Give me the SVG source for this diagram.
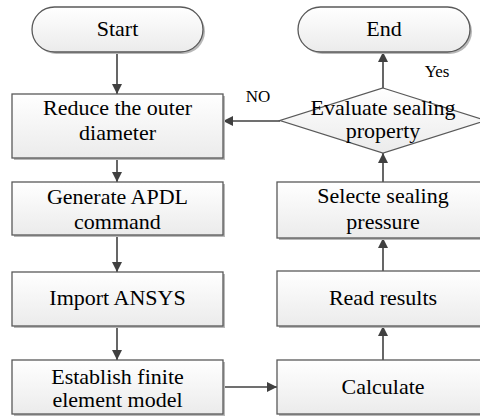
<svg xmlns="http://www.w3.org/2000/svg" width="480" height="417" viewBox="0 0 480 417">
<style>
.box{fill:url(#g);stroke:#595959;stroke-width:1.3}
.sh{fill:#b8b8b8}
text{font-family:'Liberation Serif','Times New Roman',serif;fill:#000;text-anchor:middle}
.t{font-size:22px}
.s{font-size:17px}
.c{stroke:#404040;stroke-width:1.6;fill:none;marker-end:url(#a)}
</style>
<defs>
<linearGradient id="g" x1="0" y1="0" x2="0" y2="1">
<stop offset="0" stop-color="#ffffff"/>
<stop offset="1" stop-color="#ebebeb"/>
</linearGradient>
<marker id="a" viewBox="0 0 10 10" refX="10" refY="5" markerWidth="10" markerHeight="10" markerUnits="userSpaceOnUse" orient="auto">
<path d="M0,0 L10,5 L0,10 z" fill="#404040"/>
</marker>
</defs>
<g id="connectors">
<line class="c" x1="117" y1="52" x2="117" y2="94"/>
<line class="c" x1="117" y1="158" x2="117" y2="182"/>
<line class="c" x1="117" y1="235" x2="117" y2="272"/>
<line class="c" x1="117" y1="326" x2="117" y2="360"/>
<line class="c" x1="223" y1="387" x2="277" y2="387"/>
<line class="c" x1="383" y1="360" x2="383" y2="326"/>
<line class="c" x1="383" y1="271" x2="383" y2="238"/>
<line class="c" x1="383" y1="182" x2="383" y2="153"/>
<line class="c" x1="383" y1="88" x2="383" y2="52"/>
<line class="c" x1="280" y1="121" x2="223" y2="121"/>
<text class="s" x="258" y="102">NO</text>
<text class="s" x="437" y="77">Yes</text>
</g>
<g id="start">
<rect class="sh" x="34" y="9" width="171" height="45" rx="22.5"/>
<rect class="box" x="32" y="7" width="171" height="45" rx="22.5"/>
<text class="t" x="117.5" y="36">Start</text>
</g>
<g id="reduce">
<rect class="sh" x="14" y="96" width="211" height="64"/>
<rect class="box" x="12" y="94" width="211" height="64"/>
<text class="t" x="117.5" y="115">Reduce the outer</text>
<text class="t" x="117.5" y="140">diameter</text>
</g>
<g id="generate">
<rect class="sh" x="14" y="184" width="211" height="53"/>
<rect class="box" x="12" y="182" width="211" height="53"/>
<text class="t" x="117.5" y="204">Generate APDL</text>
<text class="t" x="117.5" y="229">command</text>
</g>
<g id="import">
<rect class="sh" x="14" y="274" width="211" height="54"/>
<rect class="box" x="12" y="272" width="211" height="54"/>
<text class="t" x="117.5" y="305">Import ANSYS</text>
</g>
<g id="establish">
<rect class="sh" x="14" y="362" width="211" height="54"/>
<rect class="box" x="12" y="360" width="211" height="54"/>
<text class="t" x="117.5" y="384">Establish finite</text>
<text class="t" x="117.5" y="407">element model</text>
</g>
<g id="calculate">
<rect class="sh" x="279" y="362" width="211" height="54"/>
<rect class="box" x="277" y="360" width="211" height="54"/>
<text class="t" x="383" y="394">Calculate</text>
</g>
<g id="read">
<rect class="sh" x="279" y="273" width="211" height="55"/>
<rect class="box" x="277" y="271" width="211" height="55"/>
<text class="t" x="383" y="305">Read results</text>
</g>
<g id="selecte">
<rect class="sh" x="279" y="184" width="211" height="56"/>
<rect class="box" x="277" y="182" width="211" height="56"/>
<text class="t" x="383" y="203">Selecte sealing</text>
<text class="t" x="383" y="229">pressure</text>
</g>
<g id="evaluate">
<polygon class="box" points="383,88 486,120.5 383,153 280,120.5"/>
<text class="t" x="383" y="115">Evaluate sealing</text>
<text class="t" x="383" y="138">property</text>
</g>
<g id="end">
<rect class="sh" x="300" y="9" width="172" height="45" rx="22.5"/>
<rect class="box" x="298" y="7" width="172" height="45" rx="22.5"/>
<text class="t" x="384" y="36">End</text>
</g>
</svg>
